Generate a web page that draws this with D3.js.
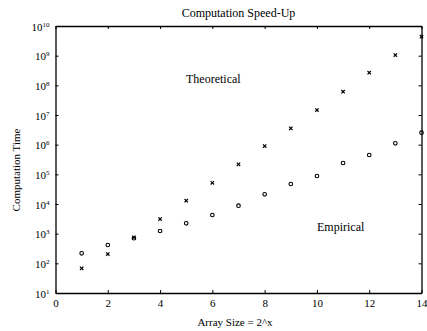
<!DOCTYPE html>
<html>
<head>
<meta charset="utf-8">
<script src="https://cdn.jsdelivr.net/npm/d3@7"></script>
<style>
  body { margin: 0; background: #fff; }
  svg { display: block; font-family: "Liberation Serif", "DejaVu Serif", serif; }
  .axis path, .axis line { stroke: #000; }
  .axis path { stroke-width: 1.3; }
</style>
</head>
<body>
<svg id="chart" width="427" height="331"></svg>
<script>
// array size exponent (2^x)
const sizes = [1, 2, 3, 4, 5, 6, 7, 8, 9, 10, 11, 12, 13, 14];
// theoretical speed-up ('x' marks)
const theoretical = [68, 206, 750, 3120, 12900, 52000, 218000, 900000, 3.56e6, 1.47e7, 6.1e7, 2.66e8, 1.05e9, 4.35e9];
// empirical speed-up ('o' marks)
const empirical = [218, 415, 700, 1230, 2230, 4260, 8750, 21200, 47200, 87700, 241000, 448000, 1.11e6, 2.53e6];
const xTicks = [0, 2, 4, 6, 8, 10, 12, 14];
const yExponents = [1, 2, 3, 4, 5, 6, 7, 8, 9, 10];

const plotLeft = 55.5, plotRight = 421.5, plotTop = 26, plotBottom = 293;

const svg = d3.select('#chart');

const x = d3.scaleLinear().domain([0, 14]).range([plotLeft, plotRight]);
const y = d3.scaleLog().domain([10, 1e10]).range([plotBottom, plotTop]);
const yTickVals = yExponents.map((e) => Math.pow(10, e));

// bottom axis with labels
svg.append('g')
  .attr('class', 'axis')
  .attr('transform', `translate(0,${plotBottom})`)
  .call(d3.axisBottom(x).tickValues(xTicks).tickSize(-3).tickPadding(6).tickSizeOuter(0))
  .call((g) => g.selectAll('text')
    .attr('font-size', 11).attr('font-family', 'Liberation Serif').attr('fill', '#000'));

// top axis (ticks only)
svg.append('g')
  .attr('class', 'axis')
  .attr('transform', `translate(0,${plotTop})`)
  .call(d3.axisTop(x).tickValues(xTicks).tickSize(-3).tickSizeOuter(0).tickFormat(''));

// left axis, labels drawn as 10 with superscript
const yAxisG = svg.append('g')
  .attr('class', 'axis')
  .attr('transform', `translate(${plotLeft},0)`)
  .call(d3.axisLeft(y).tickValues(yTickVals).tickSize(-3).tickSizeOuter(0).tickFormat(''));

yAxisG.selectAll('.tick text').remove();
yAxisG.selectAll('.tick').each(function (d) {
  const t = d3.select(this).append('text')
    .attr('x', -6)
    .attr('dy', '0.38em')
    .attr('text-anchor', 'end')
    .attr('fill', '#000')
    .attr('font-size', 11)
    .attr('font-family', 'Liberation Serif');
  t.append('tspan').text('10');
  t.append('tspan').attr('font-size', 7).attr('dy', '-4').text(Math.round(Math.log10(d)));
});

// right axis (ticks only)
svg.append('g')
  .attr('class', 'axis')
  .attr('transform', `translate(${plotRight},0)`)
  .call(d3.axisRight(y).tickValues(yTickVals).tickSize(-3).tickSizeOuter(0).tickFormat(''));

// marks
const cross = d3.symbol().type(d3.symbolTimes).size(9);
svg.append('g').selectAll('path')
  .data(sizes.map((s, i) => ({ s, v: theoretical[i] })))
  .enter().append('path')
  .attr('transform', (d) => `translate(${x(d.s)},${y(d.v)})`)
  .attr('d', cross)
  .attr('fill', 'none')
  .attr('stroke', '#000')
  .attr('stroke-width', 1.2);

svg.append('g').selectAll('circle')
  .data(sizes.map((s, i) => ({ s, v: empirical[i] })))
  .enter().append('circle')
  .attr('cx', (d) => x(d.s))
  .attr('cy', (d) => y(d.v))
  .attr('r', 1.8)
  .attr('fill', 'none')
  .attr('stroke', '#000')
  .attr('stroke-width', 1.1);

// annotations
svg.append('text')
  .attr('x', 186).attr('y', 83)
  .attr('font-size', 12)
  .text('Theoretical');

svg.append('text')
  .attr('x', 317).attr('y', 231)
  .attr('font-size', 12)
  .text('Empirical');

// titles
svg.append('text')
  .attr('x', (plotLeft + plotRight) / 2).attr('y', 17)
  .attr('text-anchor', 'middle')
  .attr('font-size', 12)
  .text('Computation Speed-Up');

svg.append('text')
  .attr('x', 235).attr('y', 326)
  .attr('text-anchor', 'middle')
  .attr('font-size', 11)
  .text('Array Size = 2^x');

svg.append('text')
  .attr('transform', 'translate(20,170) rotate(-90)')
  .attr('text-anchor', 'middle')
  .attr('font-size', 11)
  .text('Computation Time');
</script>
</body>
</html>
